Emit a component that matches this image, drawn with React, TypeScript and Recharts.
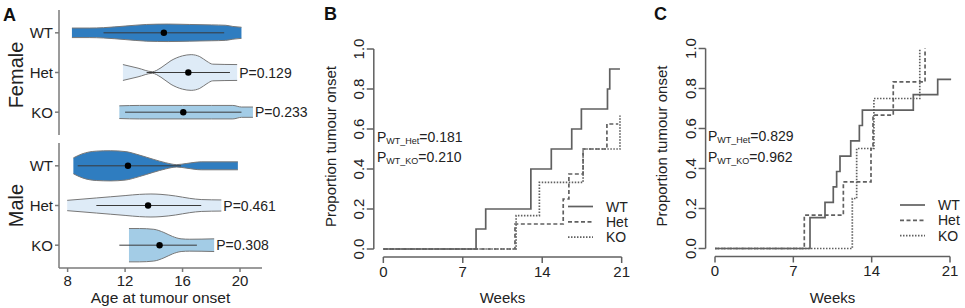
import React from 'react'
import { ComposedChart, LineChart, Line, Area, Scatter, XAxis, YAxis, ReferenceLine } from 'recharts'

const FONT = '"Liberation Sans", Arial, sans-serif'
const AXIS = '#7a7a7a'
const KM_STROKE = '#606060'

const GROUPS = ['WT', 'Het', 'KO']
const FILLS = ['#2f7dc0', '#deebf7', '#a3cce6']
const DASHES = ['0', '4 2.5', '1.5 1.5']

// panel A: violin outlines, [age, half width in rows]
const femaleWT = [[8.3, 0.12], [9.5, 0.12], [10.5, 0.13], [12, 0.17], [13.5, 0.21], [15, 0.22], [16.5, 0.21], [18, 0.2], [19, 0.19], [19.5, 0.16], [20.1, 0.14]]
const femaleHet = [[11.85, 0.2], [12.9, 0.11], [13.9, 0.02], [14.5, 0.12], [15.2, 0.3], [16, 0.42], [16.6, 0.45], [17.2, 0.4], [17.7, 0.28], [18.1, 0.21], [19.8, 0.2]]
const femaleKO = [[11.6, 0.16], [13, 0.17], [16, 0.17], [18, 0.17], [19.5, 0.17], [20.1, 0.13], [20.9, 0.13]]
const maleWT = [[8.4, 0.2], [9, 0.3], [10, 0.37], [11, 0.38], [12, 0.36], [13, 0.27], [14, 0.16], [14.8, 0.08], [15.6, 0.03], [16.3, 0.06], [17.3, 0.1], [19.85, 0.1]]
const maleHet = [[7.97, 0.13], [9, 0.16], [10, 0.19], [11, 0.22], [12, 0.25], [13, 0.28], [13.8, 0.29], [14.5, 0.28], [15.5, 0.24], [16.5, 0.18], [17.3, 0.15], [18.7, 0.14]]
const maleKO = [[12.27, 0.42], [13, 0.42], [14, 0.4], [14.7, 0.32], [15.3, 0.22], [15.9, 0.16], [16.5, 0.15], [18.2, 0.16]]

const femaleRange = [[10.5, 18.9], [13.5, 19.3], [12.0, 20.1]]
const femaleMedian = [14.7, 16.4, 16.05]
const femaleP = ['', 'P=0.129', 'P=0.233']
const maleRange = [[8.7, 15.9], [10.0, 17.3], [11.6, 17.0]]
const maleMedian = [12.2, 13.6, 14.4]
const maleP = ['', 'P=0.461', 'P=0.308']

const ageTicks = [8, 12, 16, 20]

// panel B: cumulative tumour onset
const bWtWeeks = [0, 8.17, 9.02, 13.0, 14.8, 16.6, 17.45, 19.75, 19.95, 20.85]
const bWtProp = [0, 0.1, 0.2, 0.4, 0.5, 0.6, 0.7, 0.8, 0.9, 0.9]
const bHetWeeks = [0, 11.6, 15.85, 16.35, 17.6, 19.7, 20.7]
const bHetProp = [0, 0.125, 0.25, 0.375, 0.5, 0.625, 0.625]
const bKoWeeks = [0, 11.7, 13.75, 17.6, 20.85]
const bKoProp = [0, 0.167, 0.333, 0.5, 0.667]

// panel C
const cWtWeeks = [0, 8.49, 9.83, 10.57, 10.87, 11.17, 12.13, 12.9, 13.17, 17.72, 19.9, 21.1]
const cWtProp = [0, 0.154, 0.231, 0.308, 0.385, 0.462, 0.538, 0.615, 0.692, 0.769, 0.846, 0.846]
const cHetWeeks = [0, 7.98, 11.47, 13.94, 14.12, 15.93, 18.77]
const cHetProp = [0, 0.167, 0.333, 0.5, 0.667, 0.833, 1.0]
const cKoWeeks = [0, 12.27, 12.66, 14.2, 18.3]
const cKoProp = [0, 0.25, 0.5, 0.75, 1.0]

const weekTicks = [0, 7, 14, 21]
const propTicks = [0, 0.2, 0.4, 0.6, 0.8, 1.0]

const toSteps = (weeks: number[], prop: number[]) => weeks.map((w, i) => ({ w, p: prop[i] }))

const bCurves = [toSteps(bWtWeeks, bWtProp), toSteps(bHetWeeks, bHetProp), toSteps(bKoWeeks, bKoProp)]
const cCurves = [toSteps(cWtWeeks, cWtProp), toSteps(cHetWeeks, cHetProp), toSteps(cKoWeeks, cKoProp)]

function ViolinPanel({ profiles, ranges, medians, pvals, showX, height, top }: any) {
  const medianData = medians.map((m: number, i: number) => ({ age: m, row: i + 1 }))
  const labelData = pvals
    .map((p: string, i: number) => ({ age: profiles[i][profiles[i].length - 1][0], row: i + 1, label: p }))
    .filter((d: any) => d.label)
  return (
    <div style={{ position: 'absolute', left: 0, top }}>
      <ComposedChart
        width={320}
        height={height}
        margin={{ top: showX ? 0 : 10, right: 58, bottom: showX ? 0 : 5, left: 0 }}
      >
        <XAxis
          type="number"
          dataKey="age"
          domain={[7.4, 21.53]}
          ticks={ageTicks}
          hide={!showX}
          height={40}
          tickSize={4}
          tickMargin={3}
          stroke={AXIS}
          strokeWidth={1.5}
          tick={{ fontSize: 15, fill: '#222', fontFamily: FONT }}
        />
        <YAxis
          type="number"
          dataKey="row"
          domain={[0.425, 3.575]}
          reversed
          ticks={[1, 2, 3]}
          tickFormatter={(v: number) => GROUPS[v - 1]}
          width={59}
          tickSize={4}
          tickMargin={2}
          stroke={AXIS}
          strokeWidth={1.5}
          tick={{ fontSize: 15, fill: '#222', fontFamily: FONT }}
        />
        {profiles.map((prof: number[][], i: number) => (
          <Area
            key={'v' + i}
            data={prof.map(([age, hw]) => ({ age, band: [i + 1 - hw, i + 1 + hw] }))}
            dataKey="band"
            type="monotone"
            fill={FILLS[i]}
            fillOpacity={1}
            stroke="#777"
            strokeWidth={1}
            isAnimationActive={false}
          />
        ))}
        {ranges.map((r: number[], i: number) => (
          <Line
            key={'r' + i}
            data={[{ age: r[0], row: i + 1 }, { age: r[1], row: i + 1 }]}
            dataKey="row"
            stroke="#3a3a3a"
            strokeWidth={1}
            dot={false}
            activeDot={false}
            isAnimationActive={false}
          />
        ))}
        <Scatter
          data={medianData}
          dataKey="row"
          isAnimationActive={false}
          shape={(p: any) => <circle cx={p.cx} cy={p.cy} r={3.2} fill="#000" />}
        />
        <Scatter
          data={labelData}
          dataKey="row"
          isAnimationActive={false}
          shape={(p: any) => (
            <text x={p.cx + 2} y={p.cy} dominantBaseline="central" fontSize={14} fill="#222" fontFamily={FONT}>
              {p.payload.label}
            </text>
          )}
        />
      </ComposedChart>
    </div>
  )
}

// R draws y tick labels parallel to the axis
const renderRotTick = (props: any) => {
  const { x, y, payload } = props
  return (
    <text
      x={x - 5.5}
      y={y}
      textAnchor="middle"
      dominantBaseline="central"
      fontSize={15}
      fill="#222"
      fontFamily={FONT}
      style={{ transform: 'rotate(-90deg)', transformBox: 'fill-box', transformOrigin: 'center' } as any}
    >
      {Number(payload.value).toFixed(1)}
    </text>
  )
}

function KMPanel({ curves, left, width, yAxisWidth, marginTop, marginRight, xAxisHeight }: any) {
  return (
    <div style={{ position: 'absolute', left, top: 0 }}>
      <LineChart
        width={width}
        height={308}
        margin={{ top: marginTop, right: marginRight, bottom: 0, left: 0 }}
      >
        <XAxis
          type="number"
          dataKey="w"
          domain={[-0.84, 21.84]}
          allowDataOverflow
          ticks={weekTicks}
          axisLine={false}
          tickLine={{ stroke: KM_STROKE, strokeWidth: 1.5 }}
          tickSize={6}
          tickMargin={3}
          height={xAxisHeight}
          tick={{ fontSize: 15, fill: '#222', fontFamily: FONT }}
        />
        <YAxis
          type="number"
          domain={[-0.04, 1.04]}
          allowDataOverflow
          ticks={propTicks}
          axisLine={false}
          tickLine={{ stroke: KM_STROKE, strokeWidth: 1.5 }}
          tickSize={7}
          tickMargin={3}
          width={yAxisWidth}
          tick={renderRotTick}
        />
        <ReferenceLine
          segment={[{ x: 0, y: -0.04 }, { x: 21, y: -0.04 }]}
          stroke={KM_STROKE}
          strokeWidth={1.5}
          ifOverflow="visible"
        />
        <ReferenceLine
          segment={[{ x: -0.84, y: 0 }, { x: -0.84, y: 1 }]}
          stroke={KM_STROKE}
          strokeWidth={1.5}
          ifOverflow="visible"
        />
        {curves.map((c: any[], i: number) => (
          <Line
            key={GROUPS[i]}
            data={c}
            dataKey="p"
            type="stepAfter"
            stroke={KM_STROKE}
            strokeWidth={1.7}
            strokeDasharray={DASHES[i]}
            dot={false}
            activeDot={false}
            isAnimationActive={false}
          />
        ))}
      </LineChart>
    </div>
  )
}

function KMLegend({ x, y }: { x: number; y: number }) {
  return (
    <g>
      {GROUPS.map((g, i) => (
        <g key={g}>
          <line
            x1={x}
            x2={x + 25}
            y1={y + i * 15.3}
            y2={y + i * 15.3}
            stroke={KM_STROKE}
            strokeWidth={1.7}
            strokeDasharray={DASHES[i]}
          />
          <text x={x + 38} y={y + i * 15.3} dominantBaseline="central" fontSize={14} fill="#222">
            {g}
          </text>
        </g>
      ))}
    </g>
  )
}

function PText({ x, y, sub, value }: any) {
  return (
    <text x={x} y={y} fontSize={14} fill="#222" dominantBaseline="central">
      <tspan>P</tspan>
      <tspan fontSize={9} dy={4}>{sub}</tspan>
      <tspan dy={-4}>={value}</tspan>
    </text>
  )
}

export default function App() {
  return (
    <div style={{ position: 'relative', width: 965, height: 308, background: '#fff', fontFamily: FONT, overflow: 'hidden' }}>
      <style>{'body{margin:0}'}</style>
      <ViolinPanel
        profiles={[femaleWT, femaleHet, femaleKO]}
        ranges={femaleRange}
        medians={femaleMedian}
        pvals={femaleP}
        showX={false}
        height={140}
        top={0}
      />
      <ViolinPanel
        profiles={[maleWT, maleHet, maleKO]}
        ranges={maleRange}
        medians={maleMedian}
        pvals={maleP}
        showX={true}
        height={165}
        top={143}
      />
      <KMPanel curves={bCurves} left={320} width={330} yAxisWidth={53.8} marginTop={41} marginRight={18.8} xAxisHeight={51} />
      <KMPanel curves={cCurves} left={640} width={325} yAxisWidth={65.6} marginTop={40.5} marginRight={5.6} xAxisHeight={51.5} />
      <svg
        width={965}
        height={308}
        style={{ position: 'absolute', left: 0, top: 0, pointerEvents: 'none' }}
        fontFamily={FONT}
      >
        <text x={3} y={21} fontSize={18} fontWeight="bold" fill="#111">A</text>
        <text x={324} y={20} fontSize={18} fontWeight="bold" fill="#111">B</text>
        <text x={654} y={20} fontSize={18} fontWeight="bold" fill="#111">C</text>
        <text x={15.5} y={75} transform="rotate(-90, 15.5, 75)" textAnchor="middle" dominantBaseline="central" fontSize={20} fill="#222">Female</text>
        <text x={15.5} y={205.5} transform="rotate(-90, 15.5, 205.5)" textAnchor="middle" dominantBaseline="central" fontSize={20} fill="#222">Male</text>
        <text x={160.5} y={297} textAnchor="middle" dominantBaseline="central" fontSize={15.5} fill="#222">Age at tumour onset</text>
        <text x={330} y={146.5} transform="rotate(-90, 330, 146.5)" textAnchor="middle" dominantBaseline="central" fontSize={15} fill="#222">Proportion tumour onset</text>
        <text x={661.7} y={146} transform="rotate(-90, 661.7, 146)" textAnchor="middle" dominantBaseline="central" fontSize={15} fill="#222">Proportion tumour onset</text>
        <text x={502.5} y={297} textAnchor="middle" dominantBaseline="central" fontSize={15} fill="#222">Weeks</text>
        <text x={832.5} y={297} textAnchor="middle" dominantBaseline="central" fontSize={15} fill="#222">Weeks</text>
        <PText x={377} y={136.5} sub="WT_Het" value="0.181" />
        <PText x={377} y={156.5} sub="WT_KO" value="0.210" />
        <PText x={708} y={135.5} sub="WT_Het" value="0.829" />
        <PText x={708} y={156.5} sub="WT_KO" value="0.962" />
        <KMLegend x={568} y={206.5} />
        <KMLegend x={900} y={205} />
      </svg>
    </div>
  )
}
